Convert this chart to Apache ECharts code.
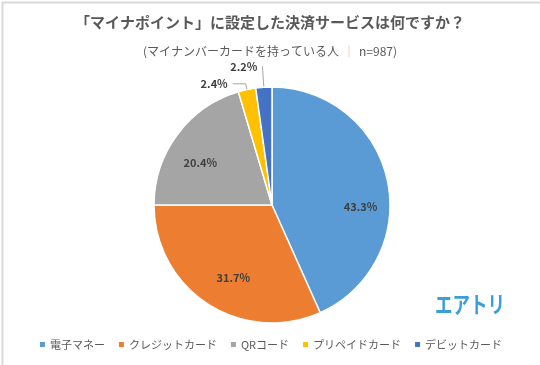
<!DOCTYPE html>
<html><head><meta charset="utf-8">
<script src="https://cdn.jsdelivr.net/npm/echarts@6/dist/echarts.min.js"></script>
<style>html,body{margin:0;padding:0;background:#fff}#c{width:540px;height:365px}</style>
</head><body><div id="c"></div>
<script>
const categories = ['電子マネー', 'クレジットカード', 'QRコード', 'プリペイドカード', 'デビットカード'];
const values = [43.3, 31.7, 20.4, 2.4, 2.2];
const colors = ['#5B9BD5', '#ED7D31', '#A5A5A5', '#FFC000', '#4472C4'];
const titleText = '「マイナポイント」に設定した決済サービスは何ですか？';
const subtitleParts = ['(マイナンバーカードを持っている人', '｜', 'n=987)'];

const labelOffsets = [[28, 15], [-5, 21], [-22, -5]];
const FONT = '"Noto Sans CJK JP", sans-serif';

const data = categories.map((name, i) => {
  const d = { name, value: values[i], itemStyle: { color: colors[i] } };
  if (i < 3) {
    d.label = { position: 'inside', offset: labelOffsets[i] };
  } else if (i === 3) {
    d.label = { position: 'outside' };
    d.labelLine = { show: true, length: 6, length2: 13 };
  } else {
    d.label = { position: 'outside' };
    d.labelLine = { show: true, length: 21, length2: 0 };
  }
  return d;
});

const chart = echarts.init(document.getElementById('c'), null, { renderer: 'canvas' });
chart.setOption({
  backgroundColor: '#fff',
  animation: false,
  color: colors,
  title: [{
    text: titleText,
    left: 'center', top: 10,
    textStyle: { fontFamily: FONT, fontSize: 15, fontWeight: 'bold', color: '#595959' }
  }, {
    text: '{a|' + subtitleParts[0] + '}{b|' + subtitleParts[1] + '}{a|' + subtitleParts[2] + '}',
    left: 'center', top: 40,
    textStyle: {
      fontWeight: 'normal',
      rich: {
        a: { fontFamily: FONT, fontSize: 12, fontWeight: 'normal', color: '#595959' },
        b: { fontFamily: FONT, fontSize: 12, fontWeight: 'normal', color: '#F4B183', padding: [0, 4, 0, 4] }
      }
    }
  }],
  legend: {
    bottom: 10, left: 'center',
    itemWidth: 7, itemHeight: 7, itemGap: 12,
    icon: 'rect',
    textStyle: { fontFamily: FONT, fontSize: 11, color: '#595959', padding: [0, 0, 0, -1] },
    data: categories
  },
  graphic: [{
    type: 'rect', left: 0, top: 0,
    shape: { width: 539, height: 364 },
    style: { fill: 'none', stroke: '#D9D9D9', lineWidth: 2 },
    silent: true
  }, {
    type: 'text', x: 435, y: 293, scaleX: 0.76,
    style: { text: 'エアトリ', fill: '#3A9FD8', font: 'bold 23px "Noto Sans CJK JP", sans-serif' }
  }],
  series: [{
    type: 'pie',
    center: [272, 205],
    radius: [0, 118],
    startAngle: 90,
    clockwise: true,
    avoidLabelOverlap: false,
    itemStyle: { borderColor: '#fff', borderWidth: 1.5 },
    label: {
      show: true,
      formatter: p => p.value.toFixed(1) + '%',
      fontFamily: FONT, fontSize: 11, fontWeight: 'bold', color: '#404040'
    },
    labelLine: { lineStyle: { color: '#A6A6A6', width: 1 }, smooth: false },
    emphasis: { disabled: true },
    data
  }]
});
</script></body></html>
